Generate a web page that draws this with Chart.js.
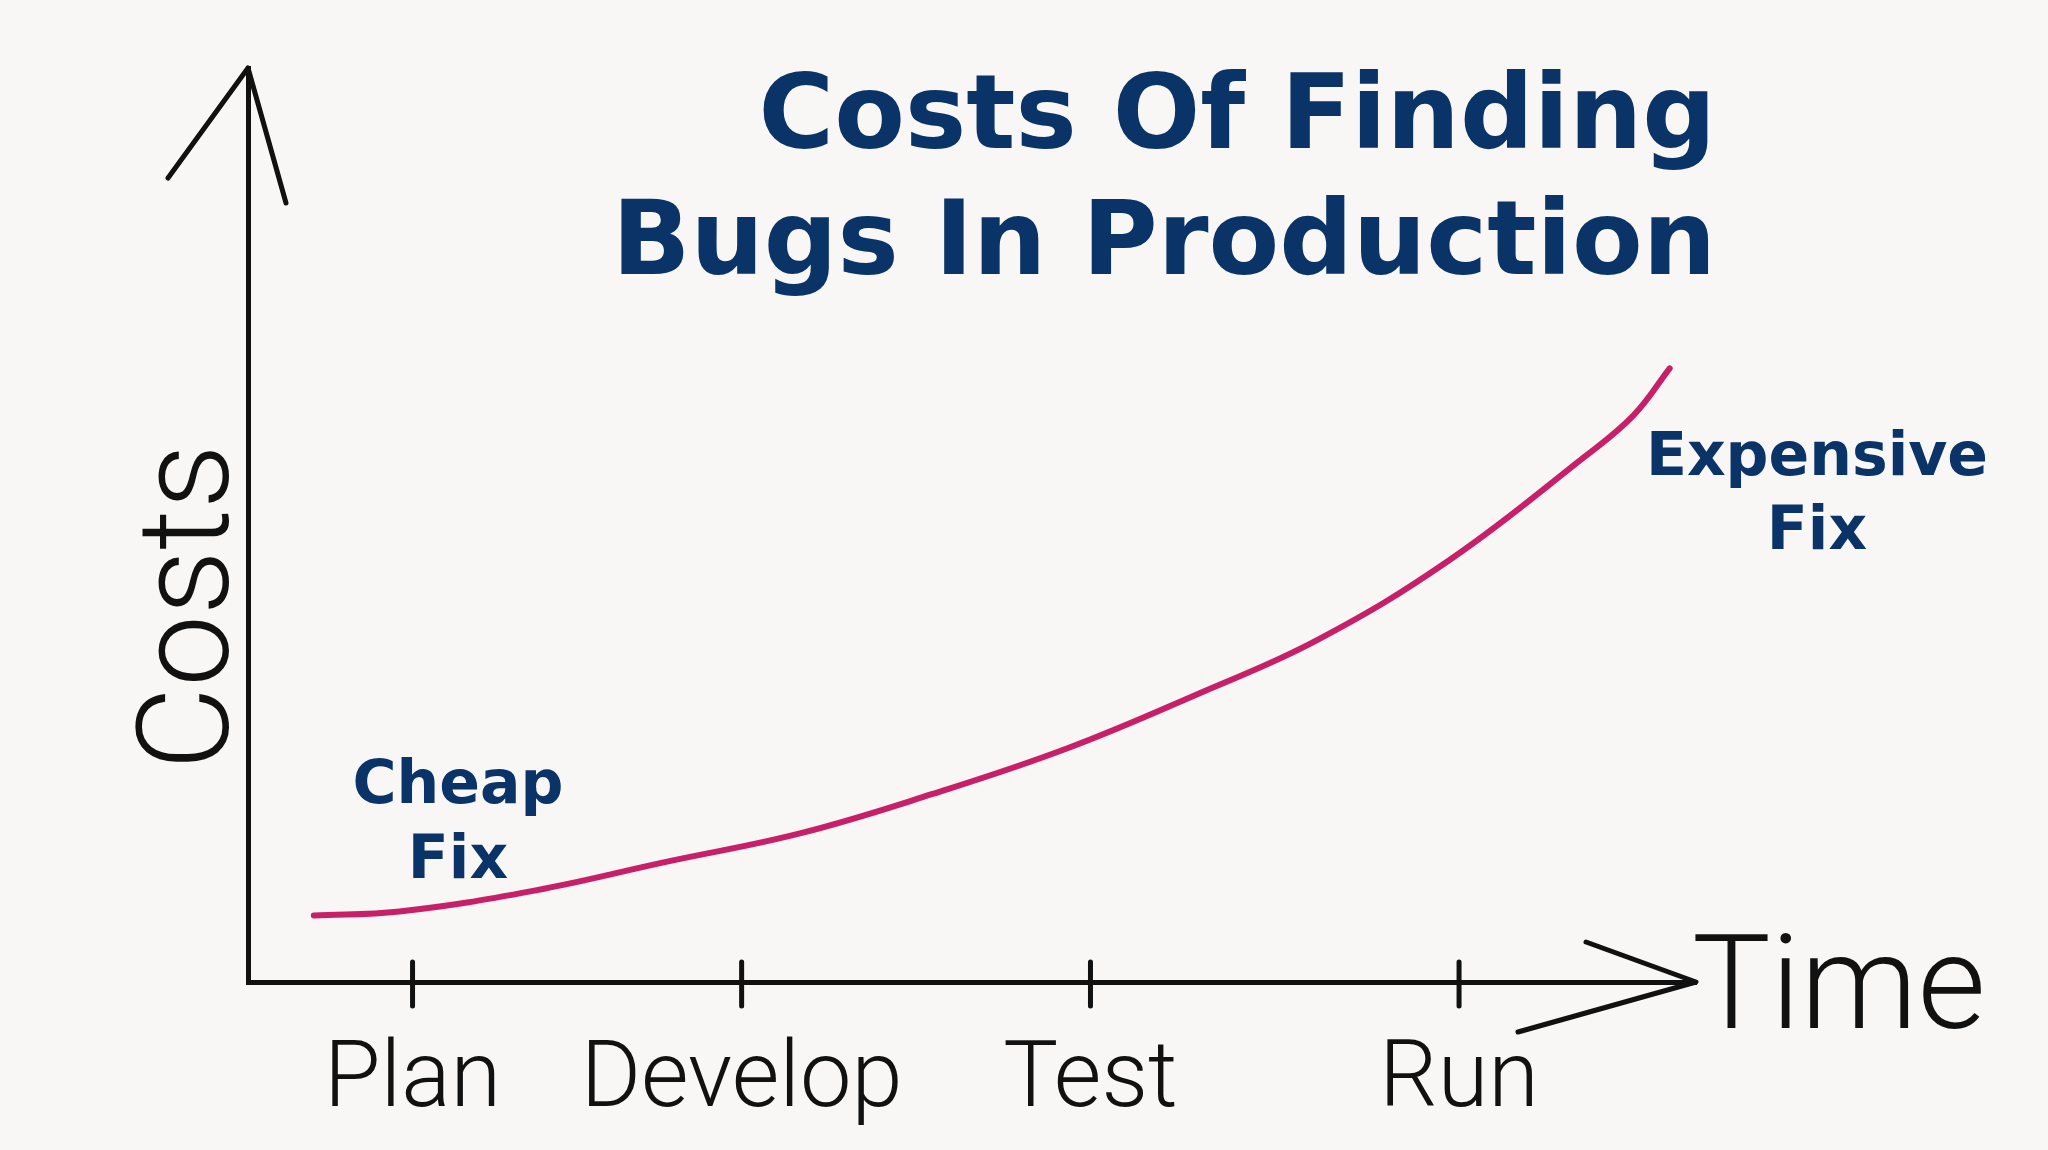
<!DOCTYPE html>
<html>
<head>
<meta charset="utf-8">
<title>Costs Of Finding Bugs In Production</title>
<script src="https://cdn.jsdelivr.net/npm/chart.js@4/dist/chart.umd.min.js"></script>
<style>
  html, body { margin: 0; padding: 0; background: #f8f7f6; }
  #js-wrap { width: 2048px; height: 1150px; position: relative; }
</style>
</head>
<body>
<div id="js-wrap"><canvas id="js-chart"></canvas></div>
<script>
// stages on the time axis (tick labels) and where they sit on it
const stages = ["Plan", "Develop", "Test", "Run"];
const stageTimes = [1, 2, 3.06, 4.18];

// the cost curve
const curveTimes = [0.70, 0.96, 1.37, 1.77, 2.18, 2.58, 2.99, 3.39, 3.75, 4.15, 4.56, 4.71, 4.82];
const curveCosts = [5.1, 5.4, 7.0, 9.2, 11.4, 14.4, 17.9, 22.1, 26.2, 32.3, 40.2, 43.4, 47.0];

const titleLines = ["Costs Of Finding", "Bugs In Production"];
const cheapLabel = ["Cheap", "Fix"];
const expensiveLabel = ["Expensive", "Fix"];
const yAxisTitle = "Costs";
const xAxisTitle = "Time";

const NAVY = "#0a3468";
const INK = "#111111";
const HAND = "Roboto, 'DejaVu Sans', sans-serif";
const BOLD = "'DejaVu Sans', Verdana, sans-serif";

const sketchPlugin = {
  id: "sketch",
  afterDraw(chart) {
    const { ctx, chartArea, scales } = chart;
    const x = scales.x;
    const left = chartArea.left, bottom = chartArea.bottom;
    ctx.save();
    ctx.strokeStyle = INK;
    ctx.lineWidth = 5;
    ctx.lineCap = "round";
    ctx.lineJoin = "round";

    // tick marks crossing the time axis
    stageTimes.forEach(t => {
      const px = x.getPixelForValue(t);
      ctx.beginPath();
      ctx.moveTo(px, bottom - 20);
      ctx.lineTo(px, bottom + 24);
      ctx.stroke();
    });

    // arrow heads
    const top = chartArea.top;
    ctx.beginPath();
    ctx.moveTo(left - 80, top + 110);
    ctx.lineTo(left, top);
    ctx.lineTo(left + 38, top + 135);
    ctx.stroke();

    const right = chartArea.right;
    ctx.beginPath();
    ctx.moveTo(right - 110, bottom - 40);
    ctx.lineTo(right, bottom);
    ctx.lineTo(right - 178, bottom + 50);
    ctx.stroke();

    // axis names
    ctx.fillStyle = INK;
    ctx.font = "300 132px " + HAND;
    ctx.textAlign = "left";
    ctx.textBaseline = "alphabetic";
    ctx.fillText(xAxisTitle, right - 4, bottom + 46);

    ctx.save();
    ctx.translate(left - 52, 607);
    ctx.rotate(-Math.PI / 2);
    ctx.font = "300 128px " + HAND;
    ctx.textAlign = "center";
    ctx.textBaseline = "middle";
    ctx.fillText(yAxisTitle, 0, 0);
    ctx.restore();

    // title
    ctx.fillStyle = NAVY;
    ctx.font = "bold 103px " + BOLD;
    ctx.textAlign = "right";
    ctx.fillText(titleLines[0], 1716, 148);
    ctx.fillText(titleLines[1], 1716, 274);

    // notes at both ends of the curve
    ctx.font = "bold 60px " + BOLD;
    ctx.textAlign = "center";
    ctx.fillText(cheapLabel[0], 458, 803);
    ctx.fillText(cheapLabel[1], 458, 878);
    ctx.fillText(expensiveLabel[0], 1817, 475);
    ctx.fillText(expensiveLabel[1], 1817, 549);
    ctx.restore();
  }
};

const costChart = (ctx) => {
  new Chart(ctx, {
    type: "line",
    data: {
      datasets: [
        {
          label: "Cost",
          data: curveTimes.map((t, i) => ({ x: t, y: curveCosts[i] })),
          borderColor: "#c81f69",
          borderWidth: 6,
          borderCapStyle: "round",
          tension: 0.4,
          pointRadius: 0,
          fill: false
        }
      ]
    },
    options: {
      responsive: true,
      maintainAspectRatio: false,
      animation: false,
      layout: { padding: { top: 68, right: 352, left: 0, bottom: 0 } },
      plugins: { legend: { display: false }, title: { display: false }, tooltip: { enabled: false } },
      scales: {
        x: {
          type: "linear",
          min: 0.5,
          max: 4.9,
          afterBuildTicks: (scale) => { scale.ticks = stageTimes.map(v => ({ value: v })); },
          afterFit: (scale) => { scale.height = 168; },
          grid: { display: false, drawTicks: false },
          border: { display: true, color: INK, width: 5 },
          ticks: {
            autoSkip: false,
            maxRotation: 0,
            padding: 46,
            color: INK,
            font: { family: HAND, size: 92, weight: "300" },
            callback: (value) => stages[stageTimes.indexOf(value)]
          }
        },
        y: {
          min: 0,
          max: 70,
          afterFit: (scale) => { scale.width = 248; },
          grid: { display: false, drawTicks: false },
          border: { display: true, color: INK, width: 5 },
          ticks: { display: false }
        }
      }
    },
    plugins: [sketchPlugin]
  });
};

const init = async () => {
  try {
    await Promise.all([
      document.fonts.load("300 92px Roboto"),
      document.fonts.load("bold 100px 'DejaVu Sans'")
    ]);
  } catch (err) {
    console.error(`Error: ${err}`);
  }
  costChart(document.getElementById("js-chart"));
};

init();
</script>
</body>
</html>
